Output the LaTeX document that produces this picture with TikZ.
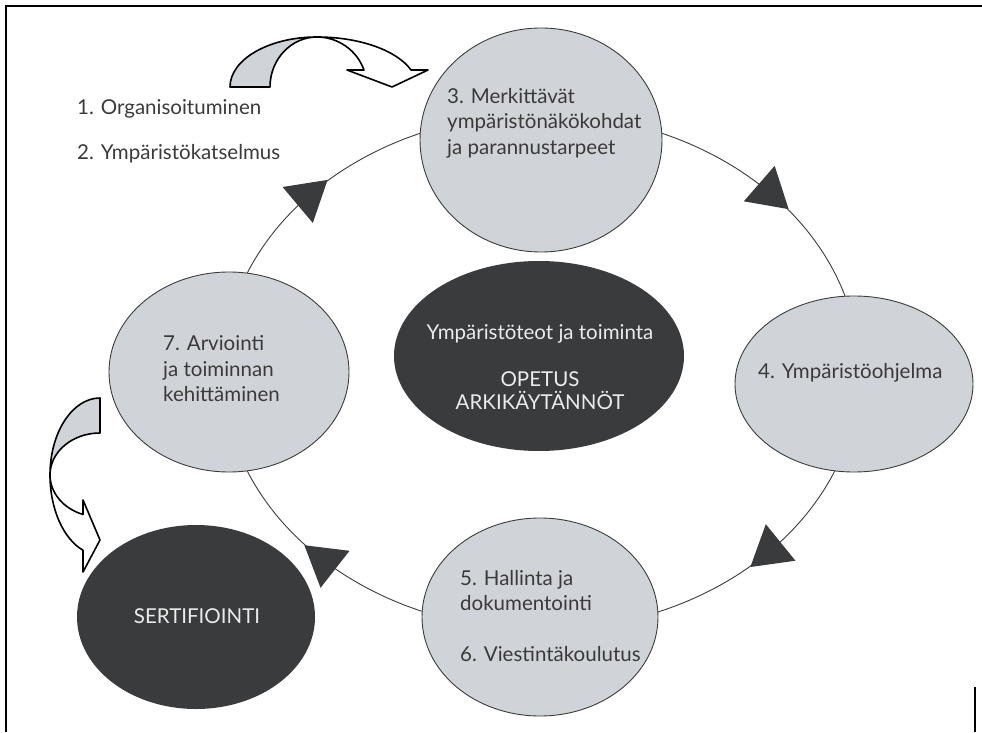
\documentclass[tikz,border=0pt]{standalone}
\usepackage{fontspec}
\setmainfont{Lato}
\usetikzlibrary{shapes.geometric,backgrounds}
\definecolor{lgray}{HTML}{D0D3D7}
\definecolor{dgray}{HTML}{3A3B3D}
\definecolor{tgray}{HTML}{3A3A3A}
\definecolor{edgec}{HTML}{3C3C3C}
\begin{document}
\begin{tikzpicture}[x=1pt,y=1pt,
 stage/.style={ellipse, draw=edgec, line width=0.9pt, fill=lgray, inner sep=0pt},
 stagetext/.style={anchor=west, inner sep=0pt, text=tgray, align=left, font=\fontsize{20.5}{25.5}\selectfont},
 darknode/.style={ellipse, fill=dgray, inner sep=0pt},
 darktext/.style={inner sep=0pt, text=white!92!black, align=center, font=\fontsize{20.5}{23.5}\selectfont},
 side/.style={anchor=base west, inner sep=0pt, text=tgray, font=\fontsize{20.5}{23}\selectfont},
 ring/.style={draw=edgec, line width=0.9pt},
 tri/.style={fill=dgray},
 bendarrow/.style={draw=black, line width=1.6pt, line join=round},
 framel/.style={draw=black, line width=2pt}]
\useasboundingbox (0,0) rectangle (982,732);

% stage nodes
\node[stage, minimum width=242pt, minimum height=224pt] (n3) at (541,592) {};
\node[stage, minimum width=238pt, minimum height=176pt] (n4) at (854,348) {};
\node[stage, minimum width=236pt, minimum height=198pt] (n5) at (540,115) {};
\node[stage, minimum width=240pt, minimum height=200pt] (n7) at (229,360) {};
\node[darknode, minimum width=290pt, minimum height=190pt] (core) at (539,376) {};
\node[darknode, minimum width=238pt, minimum height=184pt] (cert) at (196,115) {};

% texts inside the ellipses
\node[stagetext] (n3t) at (447,609) {3. Merkittävät\\ympäristönäkökohdat\\ja parannustarpeet};
\node[stagetext] (n4t) at (758,359) {4. Ympäristöohjelma};
\node[stagetext] (n5t) at (460,116) {5. Hallinta ja\\dokumentointi\\[25.5pt]6. Viestintäkoulutus};
\node[stagetext] (n7t) at (163,363) {7. Arviointi\\ja toiminnan\\kehittäminen};
\node[darktext] (coret) at (540,365) {Ympäristöteot ja toiminta\\[23.5pt]OPETUS\\ARKIKÄYTÄNNÖT};
\node[darktext] (certt) at (197,116) {SERTIFIOINTI};

% cycle ring behind the stages
\begin{scope}[on background layer]
\node[ellipse, ring, minimum width=636pt, minimum height=516pt, inner sep=0pt] (cycle) at (541,360) {};
\end{scope}

% arrowheads on the ring (clockwise flow 3 -> 4 -> 5 -> 7 -> 3)
\foreach \t in {136,43,315,226}{
  \pgfmathsetmacro\ang{atan2(-258*cos(\t),318*sin(\t))}
  \pgfmathsetmacro\px{541+318*cos(\t)}
  \pgfmathsetmacro\py{360+258*sin(\t)}
  \fill[tri, shift={(\px,\py)}, rotate=\ang] (20,0) -- (-19,23.5) -- (-19,-23.5) -- cycle;
}

% side texts
\node[side] (t1) at (77,617) {1. Organisoituminen};
\node[side] (t2) at (77,572) {2. Ympäristökatselmus};

% top curved arrow
\path[bendarrow, fill=white] (317,695) arc[start angle=90, end angle=19.9, x radius=100, y radius=50] -- (428,662) -- (392,645) -- (347,662) -- (364,662) arc[start angle=19.9, end angle=90, x radius=50, y radius=50] -- cycle;
\path[bendarrow, fill=lgray] (230,645) arc[start angle=180, end angle=90, x radius=87, y radius=50] arc[start angle=90, end angle=180, x radius=47, y radius=50] -- cycle;

% left curved arrow
\path[bendarrow, fill=white] (50,257) arc[start angle=180, end angle=250.1, x radius=50, y radius=80] -- (83,160) -- (100,192) -- (83,232) -- (83,217.5) arc[start angle=250.1, end angle=180, x radius=50, y radius=42] -- cycle;
\path[bendarrow, fill=lgray] (100,334) arc[start angle=90, end angle=180, x radius=50, y radius=77] arc[start angle=180, end angle=90, x radius=50, y radius=42] -- cycle;

% frame
\draw[framel] (6,0) -- (6,726) -- (982,726);
\draw[framel] (975,0) -- (975,45);
\end{tikzpicture}
\end{document}
